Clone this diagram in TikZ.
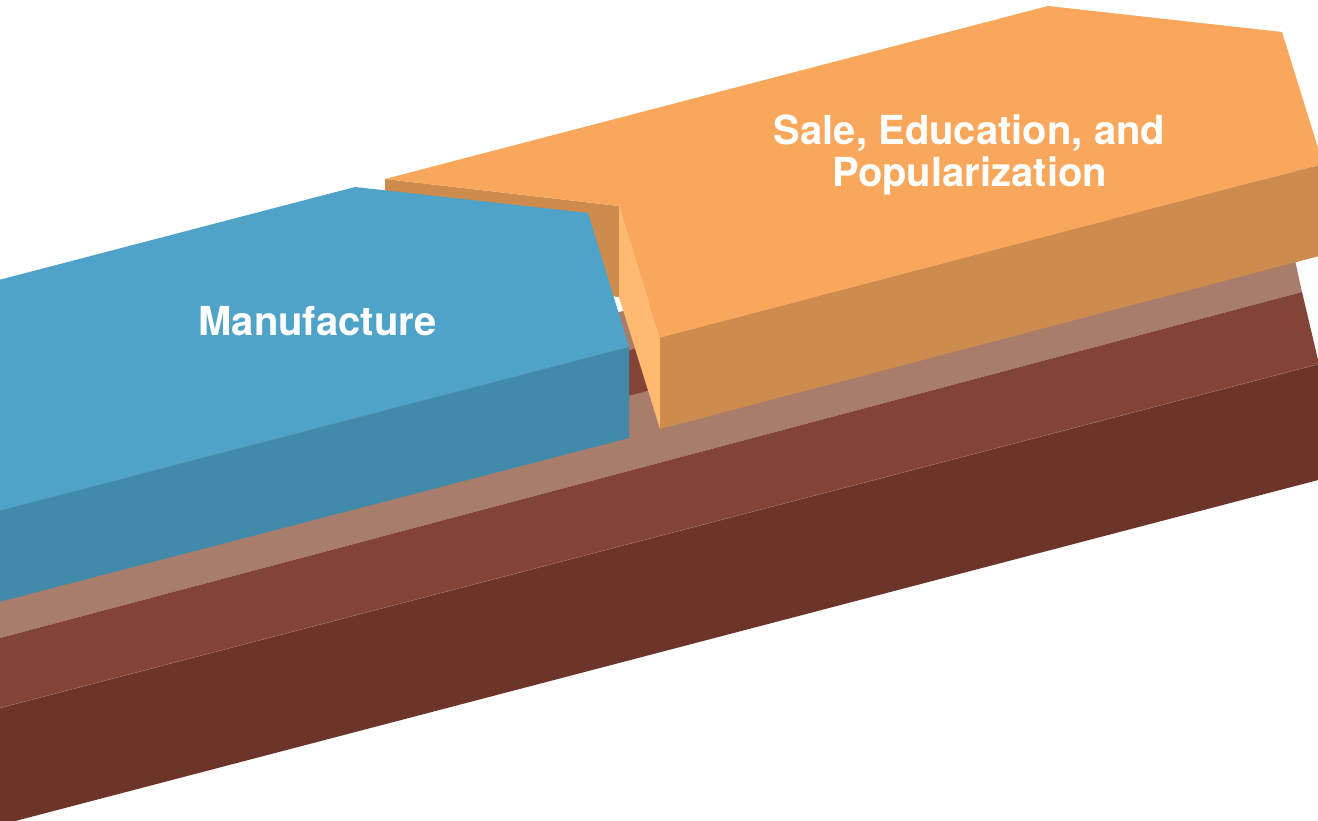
\documentclass[tikz,border=0pt]{standalone}
\usepackage{fontspec}
\setmainfont{TeX Gyre Heros}
\definecolor{bluetop}{RGB}{79,163,201}
\definecolor{bluefront}{RGB}{66,138,170}
\definecolor{orangetop}{RGB}{248,167,92}
\definecolor{orangedark}{RGB}{205,139,78}
\definecolor{orangelight}{RGB}{253,186,112}
\definecolor{brownlight}{RGB}{168,125,107}
\definecolor{brownmid}{RGB}{132,67,55}
\definecolor{browndark}{RGB}{109,53,41}
\tikzset{
  face/.style={line width=0pt, draw=none},
  label/.style={text=white, font=\bfseries\fontsize{40}{42}\selectfont, inner sep=0pt, align=center}
}
\begin{document}
\begin{tikzpicture}[x=1pt, y=-1pt]
\useasboundingbox (0,0) rectangle (1318,821);
\clip (0,0) rectangle (1318,821);
\fill[white] (0,0) rectangle (1318,821);
% brown base, upper tier
\fill[face, brownlight] (0,474) -- (1250,147) -- (1262,185) -- (0,514) -- cycle;
\fill[face, brownmid] (0,514) -- (1262,185) -- (1262,235) -- (0,564) -- cycle;
% brown base, lower tier
\fill[face, brownlight] (0,560) -- (1287,224) -- (1302,292) -- (0,638) -- cycle;
\fill[face, brownmid] (0,638) -- (1302,292) -- (1319,364) -- (0,708) -- cycle;
\fill[face, browndark] (0,708) -- (1319,364) -- (1345,473) -- (0,825) -- cycle;
\draw[brownmid!70!white, line width=0.5pt, opacity=0.6] (0,708) -- (1319,364);
% orange arrow
\fill[face, orangedark] (385,179) -- (619,206) -- (619,297) -- (385,270) -- cycle;
\fill[face, orangelight] (619,206) -- (660,338) -- (660,429) -- (619,297) -- cycle;
\fill[face, orangetop] (385,179) -- (1048,6) -- (1282,32) -- (1323,164) -- (660,338) -- (619,206) -- cycle;
\fill[face, orangedark] (660,338) -- (1323,164) -- (1323,255) -- (660,429) -- cycle;
% blue arrow
\fill[face, bluetop] (-5,281) -- (355,187) -- (588,213) -- (629,347) -- (-5,512) -- cycle;
\fill[face, bluefront] (-5,512) -- (629,347) -- (629,438) -- (-5,603) -- cycle;
% labels
\node[label, anchor=base] (manu) at (317.5,335) {Manufacture};
\node[label, anchor=base] (sale) at (969.5,187) {Sale, Education, and\\Popularization};
\end{tikzpicture}
\end{document}
